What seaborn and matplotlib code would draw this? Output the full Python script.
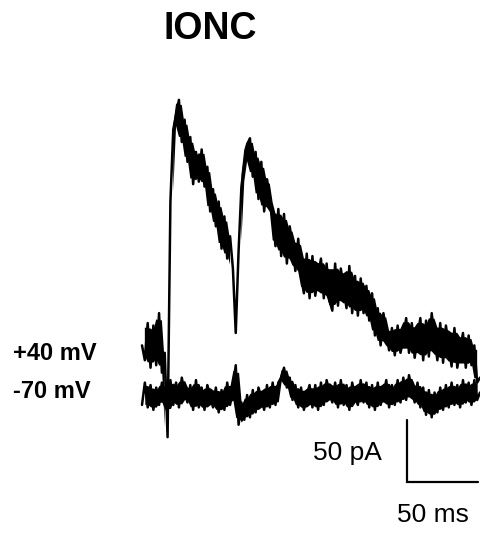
import numpy as np
import matplotlib
matplotlib.use("Agg")
import matplotlib.pyplot as plt
import seaborn as sns

# sampling interval of the traces (ms)
dt_ms = 2.0

# current at +40 mV (pA), every 2 ms
i_plus40 = [40, 28, 58, 22, 56, 24, 66, 18, 34, -34,
            156, 214, 226, 238, 204, 222, 188, 208, 170, 196,
            172, 198, 168, 184, 148, 166, 136, 156, 118, 144,
            110, 128, 102, 50, 116, 168, 186, 202, 207, 176,
            196, 158, 188, 148, 174, 160, 144, 120, 150, 112,
            146, 106, 136, 120, 100, 126, 96, 82, 114, 78,
            112, 80, 96, 110, 78, 106, 76, 68, 106, 72,
            102, 86, 70, 104, 66, 96, 64, 94, 66, 88,
            60, 82, 48, 70, 40, 66, 50, 36, 54, 32,
            56, 34, 45, 62, 34, 58, 30, 48, 62, 28,
            60, 31, 66, 44, 28, 58, 26, 56, 40, 23,
            54, 22, 36, 50, 22, 48, 24, 40, 10, 14]

# current at -70 mV (pA)
i_minus70 = [-8, 10, -10, 8, -12, 6, -8, 10, -6, -14,
             12, -8, 10, -10, 14, 2, -6, 8, -12, 12,
             -10, 6, -12, 8, 0, -10, 6, -14, 4, -12,
             10, -8, 4, 24, -24, -6, -20, 0, -18, 4,
             -14, 6, -2, -12, 8, -10, 10, -8, 10, 14,
             22, 6, 14, -4, 8, -10, 6, -12, 0, 8,
             -10, 8, -12, 10, -8, 12, 2, -6, 10, -10,
             12, -8, 8, -12, 10, -2, -8, 12, -6, 10,
             -10, 8, -12, 10, -8, 0, 12, -10, 8, -8,
             12, -6, 14, -4, 16, 4, -6, 10, -10, 6,
             -16, 4, -18, 2, -14, 6, -12, 8, -10, 10,
             -8, 8, -10, 12, -6, 10, -8, 12, -4, 2]

t_ms = np.arange(len(i_plus40)) * dt_ms

# scale bar
bar_t0, bar_i0 = 186.6, -20.0
bar_pa, bar_ms = 50, 50


def noisy_trace(ax, t, i):
    # zigzag line plus a filled core so the noise looks like a solid band
    i = np.asarray(i, dtype=float)
    win = np.vstack([i[:-2], i[1:-1], i[2:]])
    lo = win.min(axis=0)
    hi = win.max(axis=0)
    pad = 0.12 * (hi - lo)
    ax.fill_between(t[1:-1], lo + pad, hi - pad, where=(hi - lo) < 75,
                    color='black', lw=0)
    sns.lineplot(x=t, y=i, ax=ax, color='black', lw=1.8,
                 estimator=None, sort=False)


sns.set_style("white")
plt.rcParams['font.family'] = ['Liberation Sans', 'DejaVu Sans']
plt.rcParams['text.color'] = 'black'

fig = plt.figure(figsize=(4.8, 5.36), dpi=100)
ax = fig.add_axes([0, 0, 1, 1])

noisy_trace(ax, t_ms, i_plus40)
noisy_trace(ax, t_ms, i_minus70)

# scale bar
ax.plot([bar_t0, bar_t0, bar_t0 + bar_ms],
        [bar_i0, bar_i0 - bar_pa, bar_i0 - bar_pa],
        color='black', lw=1.6, solid_joinstyle='miter')

ax.set_xlim(-100, 238)
ax.set_ylim(-113.7, 318.5)
ax.axis('off')

fig.text(0.4375, 0.945, 'IONC', fontsize=27, fontweight='bold',
         ha='center', va='center')
fig.text(0.027, 0.341, '+40 mV', fontsize=17, fontweight='bold',
         ha='left', va='center')
fig.text(0.027, 0.269, '-70 mV', fontsize=17, fontweight='bold',
         ha='left', va='center')
fig.text(0.723, 0.155, '50 pA', fontsize=19, ha='center', va='center')
fig.text(0.902, 0.039, '50 ms', fontsize=19, ha='center', va='center')

fig.savefig('out.png', dpi=100)
